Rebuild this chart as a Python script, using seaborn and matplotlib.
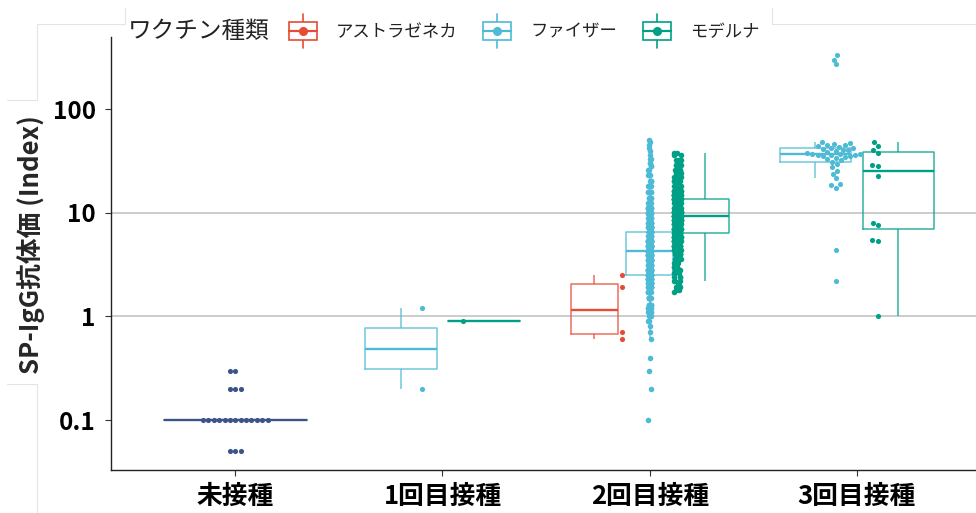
import numpy as np
import pandas as pd
import seaborn as sns
import matplotlib.pyplot as plt
from matplotlib.lines import Line2D
from matplotlib.patches import Rectangle
from matplotlib.ticker import NullLocator
from matplotlib.legend_handler import HandlerBase

stages = ['未接種', '1回目接種', '2回目接種', '3回目接種']
vaccines = ['アストラゼネカ', 'ファイザー', 'モデルナ']
palette = {'未接種': '#3C5488', 'アストラゼネカ': '#E64B35',
           'ファイザー': '#4DBBD5', 'モデルナ': '#00A087'}

# unvaccinated: value levels and number of dots on each
unvax_vals = [0.05, 0.1, 0.2, 0.3]
unvax_counts = [3, 13, 3, 2]

# 1st dose
pf1_vals = [0.2, 1.2]
md1_vals = [0.9]

# 2nd dose (large groups given as level / count)
az2_vals = [0.6, 0.7, 1.9, 2.5]
pf2_vals = [0.1, 0.2, 0.3, 0.4, 0.6, 0.7, 0.8, 0.9, 1.0,
            1.1, 1.2, 1.3, 1.5, 1.7, 1.9, 2.1, 2.3, 2.5,
            2.8, 3.1, 3.5, 3.9,
            4.3, 4.8, 5.3, 5.9, 6.5, 7.2,
            8.0, 8.9, 9.9, 11, 12.5, 14, 16, 18, 20, 23,
            26, 28, 30, 33, 36, 39, 42, 45, 48, 50]
pf2_counts = [1, 1, 1, 1, 1, 1, 1, 2, 4,
              6, 8, 10, 13, 16, 18, 20, 22, 25,
              28, 30, 29, 29,
              32, 31, 28, 25, 22, 20,
              18, 16, 14, 12, 10, 8, 6, 5, 4, 3,
              2, 2, 2, 2, 1, 1, 1, 1, 1, 1]
md2_vals = [1.7, 1.8, 1.9, 2.0, 2.2, 2.4, 2.6, 2.8, 3.0, 3.3,
            3.6, 4.0, 4.4, 4.8, 5.3, 5.8, 6.4, 7.0, 7.7, 8.5,
            9.3, 10.2, 11.2, 12.3, 13.5, 14.8, 16.3, 18, 20, 22,
            24, 26, 29, 32, 36, 38]
md2_counts = [1, 2, 2, 2, 3, 3, 4, 5, 6, 7,
              9, 11, 14, 17, 21, 25, 29, 33, 36, 39,
              40, 40, 38, 33, 33, 29, 24, 17, 13, 10,
              7, 5, 4, 3, 2, 2]

# 3rd dose
pf3_vals = [2.2, 4.4, 17.5, 18.5, 19.0, 21.5, 23.5, 25.5, 27.5, 29.5,
            31.0, 32.0, 33.0, 33.8, 34.5, 35.0, 35.5, 35.8, 36.0, 36.3,
            36.5, 36.8, 37.2, 37.8, 38.5, 39.2, 40.0, 40.6, 41.2, 41.8,
            42.4, 43.0, 43.8, 44.6, 45.3, 46.0, 46.8, 47.6, 270, 300, 330]
md3_vals = [1.0, 5.3, 5.5, 7.6, 7.9, 22.4, 28.3, 28.7, 38, 40, 44, 47.6]

yticks = [0.1, 1, 10, 100]
ytick_labels = ['0.1', '1', '10', '100']
grid_vals = [1, 10]
strip_jitter = {'ファイザー': 0.008, 'モデルナ': 0.018}


def make_frame():
    parts = [
        ('未接種', '未接種', np.repeat(unvax_vals, unvax_counts)),
        ('1回目接種', 'ファイザー', pf1_vals),
        ('1回目接種', 'モデルナ', md1_vals),
        ('2回目接種', 'アストラゼネカ', az2_vals),
        ('2回目接種', 'ファイザー', np.repeat(pf2_vals, pf2_counts)),
        ('2回目接種', 'モデルナ', np.repeat(md2_vals, md2_counts)),
        ('3回目接種', 'ファイザー', pf3_vals),
        ('3回目接種', 'モデルナ', md3_vals),
    ]
    frames = [pd.DataFrame({'stage': s, 'vaccine': v,
                            'value': np.asarray(vals, dtype=float)})
              for s, v, vals in parts]
    df = pd.concat(frames, ignore_index=True)
    df['pos'] = df['stage'].map({s: i for i, s in enumerate(stages)}).astype(float)
    return df


class BoxGlyph(HandlerBase):
    # ggplot-style legend key: small boxplot with a dot in the middle
    def create_artists(self, legend, orig_handle, xdescent, ydescent,
                       width, height, fontsize, trans):
        c = orig_handle.get_color()
        cx = 0.5 * width - xdescent
        cy = 0.5 * height - ydescent
        bw, bh, wh = 20, 13.5, 12.5
        whisker = Line2D([cx, cx], [cy - wh, cy + wh], color=c, lw=1.2, transform=trans)
        box = Rectangle((cx - bw / 2, cy - bh / 2), bw, bh, facecolor='white',
                        edgecolor=c, lw=1.2, transform=trans)
        median = Line2D([cx - bw / 2, cx + bw / 2], [cy, cy], color=c, lw=1.6,
                        transform=trans)
        dot = Line2D([cx], [cy], marker='o', markersize=5.5, color=c, ls='none',
                     transform=trans)
        return [whisker, box, median, dot]


def main():
    df = make_frame()

    sns.set_style('ticks')
    plt.rcParams['font.family'] = ['Noto Sans CJK JP', 'DejaVu Sans']

    fig = plt.figure(figsize=(9.76, 5.13), dpi=100)
    ax = fig.add_axes([111 / 976, 43 / 513, 865 / 976, 433 / 513])
    ax.set_yscale('log')

    for y in grid_vals:
        ax.axhline(y, color='#c8c8c8', lw=1.3, zorder=0)

    np.random.seed(7)
    for i, stage in enumerate(stages):
        sub = df[df['stage'] == stage]
        present = [v for v in ['未接種'] + vaccines if v in set(sub['vaccine'])]

        sns.boxplot(data=sub, x='pos', y='value', hue='vaccine', hue_order=present,
                    palette=palette, native_scale=True, width=0.8, gap=0.14,
                    dodge=True, fill=False, showfliers=False, showcaps=False,
                    linewidth=1.1, boxprops={'alpha': 0.8},
                    whiskerprops={'alpha': 0.8}, medianprops={'linewidth': 1.7},
                    legend=False, ax=ax)

        # points are dodged more tightly than the boxes
        k = len(present)
        for j, vac in enumerate(present):
            grp = sub[sub['vaccine'] == vac].assign(pos=i + (j - (k - 1) / 2) * 0.4 / k)
            kws = dict(data=grp, x='pos', y='value', native_scale=True,
                       color=palette[vac], linewidth=0, zorder=3, ax=ax)
            if len(grp) > 100:
                sns.stripplot(jitter=strip_jitter[vac], size=4, **kws)
            else:
                sns.swarmplot(size=3.7, **kws)

    ax.set_xlim(-0.6, 3.575)
    ax.set_ylim(0.033, 495)
    ax.set_xticks(range(len(stages)), stages, fontsize=18.5, fontweight='bold')
    ax.set_yticks(yticks, ytick_labels, fontsize=17.5, fontweight='bold')
    ax.yaxis.set_minor_locator(NullLocator())
    ax.set_xlabel('')
    ax.set_ylabel('')
    ax.tick_params(axis='both', length=4, width=0.8, color='#333333', labelcolor='black')
    ax.tick_params(axis='y', pad=7)
    ax.tick_params(axis='x', pad=5)
    sns.despine(ax=ax)
    for side in ['left', 'bottom']:
        ax.spines[side].set_color('#222222')
        ax.spines[side].set_linewidth(1.0)

    fig.text(31 / 976, 1 - 244.5 / 513, 'SP-IgG抗体価 (Index)', rotation=90,
             ha='center', va='center', fontsize=18.5, fontweight='bold')

    fig.text(128 / 976, 1 - 32 / 513, 'ワクチン種類', fontsize=17,
             ha='left', va='center', color='#222222')
    handles = [Line2D([], [], color=palette[v]) for v in vaccines]
    fig.legend(handles, vaccines, handler_map={Line2D: BoxGlyph()},
               loc='center left', bbox_to_anchor=(287 / 976, 1 - 32 / 513),
               ncol=3, frameon=False, fontsize=12.5, handlelength=1.8,
               handletextpad=1.0, columnspacing=1.4, borderpad=0,
               borderaxespad=0, labelcolor='#222222')

    # faint panel edges visible in the original screenshot
    frame_segments = [((37, 24), (125, 24)), ((125, 24), (125, 8)),
                      ((772, 8), (772, 24)), ((772, 24), (976, 24)),
                      ((37, 24), (37, 100)), ((7, 100), (37, 100)),
                      ((7, 384), (37, 384)), ((37, 384), (37, 513))]
    for (x0, y0), (x1, y1) in frame_segments:
        fig.add_artist(Line2D([x0 / 976, x1 / 976], [1 - y0 / 513, 1 - y1 / 513],
                              color='#e4e4e4', lw=0.8))

    fig.savefig('out.png', dpi=100)


if __name__ == '__main__':
    main()
